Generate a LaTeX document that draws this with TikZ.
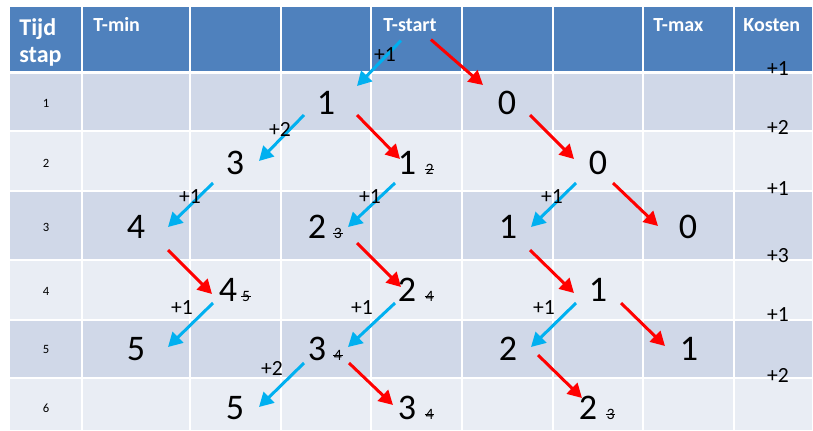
\documentclass[tikz,border=0pt]{standalone}
\usepackage{fontspec}
\setmainfont{Carlito}
\usetikzlibrary{arrows.meta,positioning}

\definecolor{hdrblue}{HTML}{4F81BD}
\definecolor{rowdark}{HTML}{D0D8E8}
\definecolor{rowlight}{HTML}{E9EDF4}
\definecolor{coolblue}{HTML}{00B0F0}
\newcommand\strk[1]{\ooalign{#1\cr\hidewidth\rule[0.3em]{0.6em}{0.07em}\hidewidth\cr}}

\begin{document}
\begin{tikzpicture}[x=0.02cm, y=-0.02cm,
  num/.style={inner sep=0pt, font=\fontsize{20.5}{24}\selectfont},
  old/.style={inner sep=0pt, anchor=base west, font=\fontsize{9}{10}\selectfont},
  cost/.style={inner sep=0pt, font=\fontsize{12.3}{14}\selectfont},
  hdr/.style={inner sep=0pt, anchor=base west, text=white, font=\fontsize{11.4}{13}\selectfont\bfseries},
  rownr/.style={inner sep=0pt, font=\fontsize{7.2}{9}\selectfont},
  cellline/.style={draw=white, line width=0.85pt},
  cool/.style={draw=coolblue, line width=1.7pt, -{Triangle[length=8pt,width=8.5pt]}},
  warm/.style={draw=red, line width=1.7pt, -{Triangle[length=8pt,width=8.5pt]}}]
  \useasboundingbox (0,0) rectangle (813,430);

  % table
  \fill[hdrblue] (10,7) rectangle (812,72.5);
  \fill[rowdark] (10,72.5) rectangle (812,131);
  \fill[rowlight] (10,131) rectangle (812,191);
  \fill[rowdark] (10,191) rectangle (812,260);
  \fill[rowlight] (10,260) rectangle (812,320);
  \fill[rowdark] (10,320) rectangle (812,378);
  \fill[rowlight] (10,378) rectangle (812,430);
  \draw[cellline, line width=1.7pt] (10,72.5) -- (812,72.5);
  \draw[cellline] (10,131) -- (812,131);
  \draw[cellline] (10,191) -- (812,191);
  \draw[cellline] (10,260) -- (812,260);
  \draw[cellline] (10,320) -- (812,320);
  \draw[cellline] (10,378) -- (812,378);
  \draw[cellline] (82,7) -- (82,430);
  \draw[cellline] (190,7) -- (190,430);
  \draw[cellline] (281,7) -- (281,430);
  \draw[cellline] (371,7) -- (371,430);
  \draw[cellline] (462,7) -- (462,430);
  \draw[cellline] (553,7) -- (553,430);
  \draw[cellline] (643,7) -- (643,430);
  \draw[cellline] (734,7) -- (734,430);

  % header
  \node[hdr, font=\fontsize{13.7}{15}\selectfont\bfseries] (tijd) at (19,35) {Tijd};
  \node[hdr, font=\fontsize{13.7}{15}\selectfont\bfseries] (stap) at (19,62) {stap};
  \node[hdr] (tmin) at (93,31) {T-min};
  \node[hdr] (tstart) at (383,31) {T-start};
  \node[hdr] (tmax) at (653,31) {T-max};
  \node[hdr] (kosten) at (743,31) {Kosten};

  % time steps
  \node[rownr] (t1) at (46,103) {1};
  \node[rownr] (t2) at (46,163) {2};
  \node[rownr] (t3) at (46,227) {3};
  \node[rownr] (t4) at (46,291) {4};
  \node[rownr] (t5) at (46,349) {5};
  \node[rownr] (t6) at (46,408) {6};

  % states
  \node[num] (r1a) at (326,103) {1};
  \node[num] (r1b) at (507,103) {0};
  \node[num] (r2a) at (235,163) {3};
  \node[num] (r2b) at (407,163) {1};
  \node[num] (r2c) at (598,163) {0};
  \node[num] (r3a) at (136,227) {4};
  \node[num] (r3b) at (317,227) {2};
  \node[num] (r3c) at (508,227) {1};
  \node[num] (r3d) at (688,227) {0};
  \node[num] (r4a) at (228,290) {4};
  \node[num] (r4b) at (407,290) {2};
  \node[num] (r4c) at (598,290) {1};
  \node[num] (r5a) at (136,349) {5};
  \node[num] (r5b) at (317,349) {3};
  \node[num] (r5c) at (508,349) {2};
  \node[num] (r5d) at (689,349) {1};
  \node[num] (r6a) at (235,408) {5};
  \node[num] (r6b) at (407,408) {3};
  \node[num] (r6c) at (588,408) {2};

  % crossed out values
  \node[old] (o2b) at ([xshift=5pt]r2b.base east) {\strk{2}};
  \node[old] (o3b) at ([xshift=4pt]r3b.base east) {\strk{3}};
  \node[old] (o4a) at ([xshift=2.5pt]r4a.base east) {\strk{5}};
  \node[old] (o4b) at ([xshift=5pt]r4b.base east) {\strk{4}};
  \node[old] (o5b) at ([xshift=4pt]r5b.base east) {\strk{4}};
  \node[old] (o6b) at ([xshift=5pt]r6b.base east) {\strk{4}};
  \node[old] (o6c) at ([xshift=5pt]r6c.base east) {\strk{3}};

  % moves
  \draw[cool] ([shift={(-9,16)}]tstart.center) -- ([shift={(31,-17)}]r1a.center);
  \draw[warm] ([shift={(21,15)}]tstart.center) -- ([shift={(-24,-18)}]r1b.center);
  \draw[cool] ([shift={(-22,12)}]r1a.center) -- ([shift={(24,-2)}]r2a.center);
  \draw[warm] ([shift={(31,12)}]r1a.center) -- ([shift={(-7,-4)}]r2b.center);
  \draw[warm] ([shift={(23,12)}]r1b.center) -- ([shift={(-24,-4)}]r2c.center);
  \draw[cool] ([shift={(-22,20)}]r2a.center) -- ([shift={(32,0)}]r3a.center);
  \draw[cool] ([shift={(-12,20)}]r2b.center) -- ([shift={(31,0)}]r3b.center);
  \draw[cool] ([shift={(-22,20)}]r2c.center) -- ([shift={(23,0)}]r3c.center);
  \draw[warm] ([shift={(15,20)}]r2c.center) -- ([shift={(-30,-1)}]r3d.center);
  \draw[warm] ([shift={(32,23)}]r3a.center) -- ([shift={(-16,4)}]r4a.center);
  \draw[warm] ([shift={(40,16)}]r3b.center) -- ([shift={(-6,-3)}]r4b.center);
  \draw[warm] ([shift={(22,23)}]r3c.center) -- ([shift={(-24,3)}]r4c.center);
  \draw[cool] ([shift={(-15,13)}]r4a.center) -- ([shift={(32,-2)}]r5a.center);
  \draw[cool] ([shift={(-12,13)}]r4b.center) -- ([shift={(31,-2)}]r5b.center);
  \draw[cool] ([shift={(-22,13)}]r4c.center) -- ([shift={(23,-2)}]r5c.center);
  \draw[warm] ([shift={(23,13)}]r4c.center) -- ([shift={(-24,-3)}]r5d.center);
  \draw[cool] ([shift={(-13,14)}]r5b.center) -- ([shift={(24,-1)}]r6a.center);
  \draw[warm] ([shift={(32,14)}]r5b.center) -- ([shift={(-14,-3)}]r6b.center);
  \draw[warm] ([shift={(30,6)}]r5c.center) -- ([shift={(-6,-10)}]r6c.center);

  % move costs
  \node[cost] (c1) at (385,55) {+1};
  \node[cost] (c2) at (280,129) {+2};
  \node[cost] (c3) at (190,197) {+1};
  \node[cost] (c4) at (370,197) {+1};
  \node[cost] (c5) at (552,197) {+1};
  \node[cost] (c6) at (182,308) {+1};
  \node[cost] (c7) at (362,308) {+1};
  \node[cost] (c8) at (544,308) {+1};
  \node[cost] (c9) at (272,368) {+2};

  % costs per step
  \node[cost] (k1) at (778,69) {+1};
  \node[cost] (k2) at (778,127) {+2};
  \node[cost] (k3) at (778,189) {+1};
  \node[cost] (k4) at (778,256) {+3};
  \node[cost] (k5) at (778,315) {+1};
  \node[cost] (k6) at (778,375) {+2};
\end{tikzpicture}
\end{document}
